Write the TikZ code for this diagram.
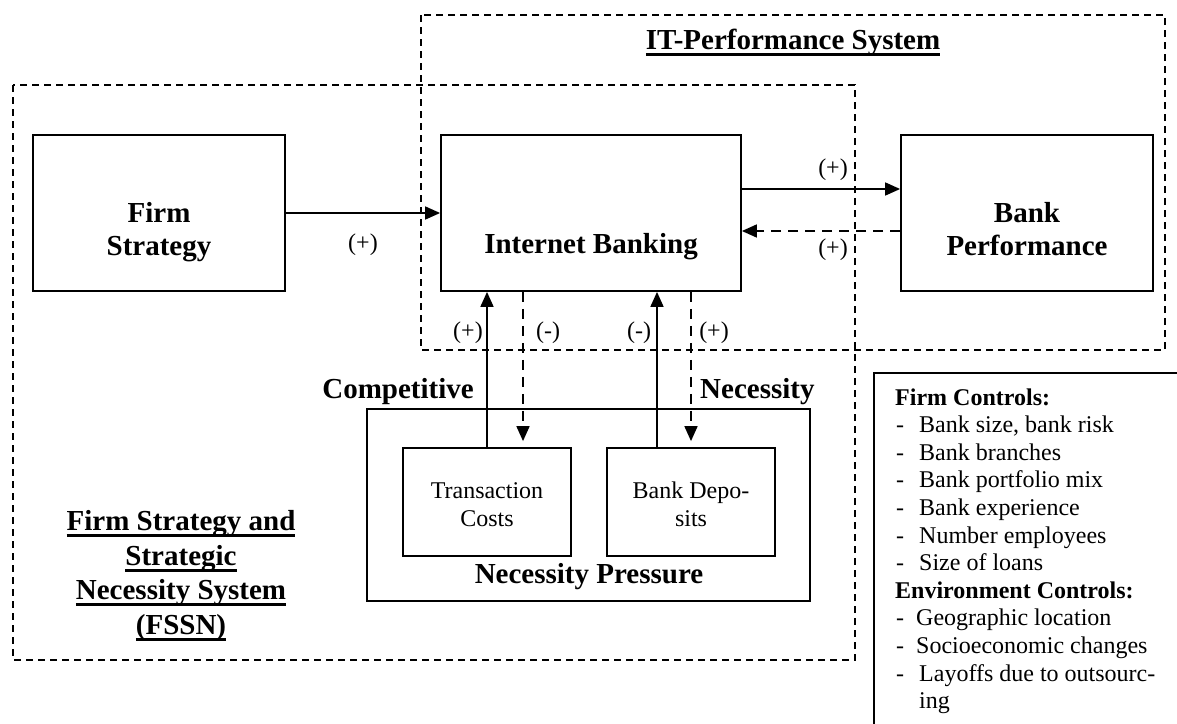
\documentclass[tikz,border=0pt]{standalone}
\usepackage{fontspec}
\setmainfont{Liberation Serif}
\usetikzlibrary{arrows.meta}
\newcommand\hfont{\fontsize{29}{33}\selectfont\bfseries}
\newcommand\bfont{\fontsize{24}{27.6}\selectfont}
\newcommand\myul[1]{\sbox0{#1}\makebox[0pt][l]{\rule[-7pt]{\wd0}{2.6pt}}\usebox0}
\tikzset{
  sysbox/.style={line width=1.8pt, dash pattern=on 7pt off 5pt},
  box/.style={draw, line width=1.8pt, inner sep=0pt},
  arr/.style={line width=1.7pt, -{Triangle[length=15pt,width=13pt]}},
  darr/.style={line width=1.7pt, dash pattern=on 10pt off 7pt, -{Triangle[length=15pt,width=13pt]}},
  htext/.style={font=\hfont, inner sep=0pt, anchor=base},
  btext/.style={font=\bfont, inner sep=0pt, anchor=base},
  ctl/.style={font=\bfont, inner sep=0pt, anchor=base west},
}
\begin{document}
\begin{tikzpicture}[x=1pt,y=-1pt]
\useasboundingbox (0,0) rectangle (1177,723);
\clip (0,0) rectangle (1177,723);
\fill[white] (0,0) rectangle (1177,723);

% system boundaries
\draw[sysbox] (421,15) rectangle (1165,350);
\draw[sysbox] (13,85) rectangle (855,660);

% boxes
\node[box, minimum width=252pt, minimum height=156pt] (fs) at (159,213) {};
\node[box, minimum width=300pt, minimum height=156pt] (ib) at (591,213) {};
\node[box, minimum width=252pt, minimum height=156pt] (bp) at (1027,213) {};
\node[box, minimum width=443pt, minimum height=192pt] (np) at (588.5,505) {};
\node[box, minimum width=168pt, minimum height=108pt] (tc) at (487,502) {};
\node[box, minimum width=168pt, minimum height=108pt] (bd) at (691,502) {};

% texts
\node[htext] (itt) at (793,49) {\myul{IT-Performance System}};
\node[htext] (fs1) at (159,222) {Firm};
\node[htext] (fs2) at (159,255) {Strategy};
\node[htext] (bp1) at (1027,222) {Bank};
\node[htext] (bp2) at (1027,255) {Performance};
\node[htext] (ibt) at (591,253) {Internet Banking};
\node[htext, anchor=base east] (comp) at (474,398) {Competitive};
\node[htext, anchor=base west] (nec) at (700,398) {Necessity};
\node[htext] (npt) at (589,583) {Necessity Pressure};
\node[btext] (tc1) at (487,498) {Transaction};
\node[btext] (tc2) at (487,526) {Costs};
\node[btext] (bd1) at (691,498) {Bank Depo-};
\node[btext] (bd2) at (691,526) {sits};
\node[htext] (ff1) at (181,530) {\myul{Firm Strategy and}};
\node[htext] (ff2) at (181,565) {\myul{Strategic}};
\node[htext] (ff3) at (181,599) {\myul{Necessity System}};
\node[htext] (ff4) at (181,634) {\myul{(FSSN)}};

% connectors
\draw[arr] (fs.east) -- (ib.west);
\draw[arr] ([yshift=24pt]ib.east) -- ([yshift=24pt]bp.west);
\draw[darr] ([yshift=-18pt]bp.west) -- ([yshift=-18pt]ib.east);
\draw[arr] (tc.north) -- (tc.north |- ib.south);
\draw[darr] ([xshift=36pt]tc.north |- ib.south) -- ([xshift=36pt,yshift=6pt]tc.north);
\draw[arr] ([xshift=-34pt]bd.north) -- ([xshift=-34pt]bd.north |- ib.south);
\draw[darr] (bd.north |- ib.south) -- ([yshift=6pt]bd.north);

% signs
\node[font=\bfont, inner sep=0pt] (l1) at (363,245) {(+)};
\node[font=\bfont, inner sep=0pt] (l2) at (833,170) {(+)};
\node[font=\bfont, inner sep=0pt] (l3) at (833,250) {(+)};
\node[font=\bfont, inner sep=0pt] (l4) at (468,333) {(+)};
\node[font=\bfont, inner sep=0pt] (l5) at (548,333) {(-)};
\node[font=\bfont, inner sep=0pt] (l6) at (639,333) {(-)};
\node[font=\bfont, inner sep=0pt] (l7) at (714,333) {(+)};

% controls box
\draw[line width=1.8pt] (874,740) -- (874,373) -- (1190,373);
\node[ctl, font=\bfont\bfseries] (c0) at (895,405) {Firm Controls:};
\node[ctl] (c1) at (896,432.6) {\makebox[23pt][l]{-}Bank size, bank risk};
\node[ctl] (c2) at (896,460.2) {\makebox[23pt][l]{-}Bank branches};
\node[ctl] (c3) at (896,487.8) {\makebox[23pt][l]{-}Bank portfolio mix};
\node[ctl] (c4) at (896,515.4) {\makebox[23pt][l]{-}Bank experience};
\node[ctl] (c5) at (896,543) {\makebox[23pt][l]{-}Number employees};
\node[ctl] (c6) at (896,570.6) {\makebox[23pt][l]{-}Size of loans};
\node[ctl, font=\bfont\bfseries] (c7) at (895,598.2) {Environment Controls:};
\node[ctl] (c8) at (896,625.8) {\makebox[20pt][l]{-}Geographic location};
\node[ctl] (c9) at (896,653.4) {\makebox[20pt][l]{-}Socioeconomic changes};
\node[ctl] (c10) at (896,681) {\makebox[23pt][l]{-}Layoffs due to outsourc-};
\node[ctl] (c11) at (919,708.6) {ing};
\end{tikzpicture}
\end{document}
